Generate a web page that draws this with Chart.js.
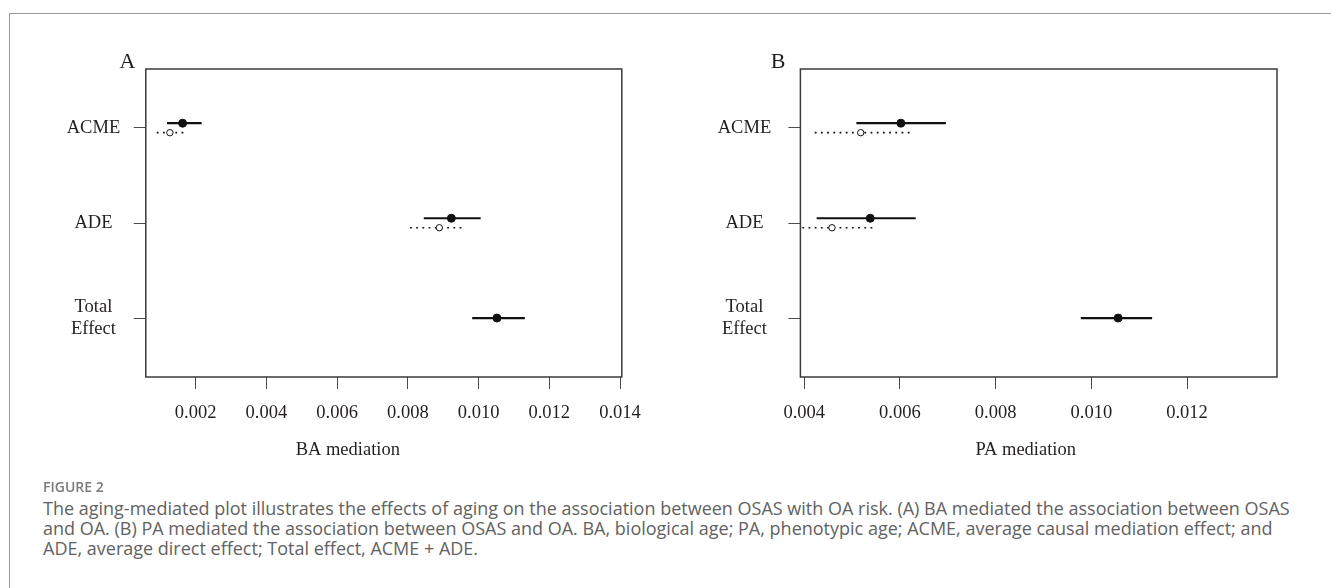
<!DOCTYPE html>
<html>
<head>
<meta charset="utf-8">
<script src="https://cdn.jsdelivr.net/npm/chart.js@4.4.1/dist/chart.umd.min.js"></script>
<style>
  html, body { margin: 0; padding: 0; background: #fff; }
  body { width: 1331px; height: 588px; position: relative; overflow: hidden; }
  #frame { position: absolute; left: 9px; top: 13px; width: 1400px; height: 700px;
           border-left: 1.5px solid #9a9a9a; border-top: 1.5px solid #9a9a9a; }
  .panel { position: absolute; top: 0; }
  #panelA { left: 0; }
  #panelB { left: 665px; }
  #fig-label { position: absolute; left: 43px; top: 477.6px; font-family: "Open Sans", sans-serif;
               font-size: 14px; font-weight: 600; line-height: 18px; color: #7a7a7a; }
  .cap-line { position: absolute; left: 43px; white-space: nowrap; font-family: "Open Sans", sans-serif;
              font-size: 15.7px; line-height: 20px; color: #626262; }
</style>
</head>
<body>
<div id="frame"></div>
<canvas id="panelA" class="panel" width="665" height="480"></canvas>
<canvas id="panelB" class="panel" width="666" height="480"></canvas>
<div id="fig-label">FIGURE 2</div>
<div class="cap-line" style="top:498px">The aging-mediated plot illustrates the effects of aging on the association between OSAS with OA risk. (A) BA mediated the association between OSAS</div>
<div class="cap-line" style="top:518px">and OA. (B) PA mediated the association between OSAS and OA. BA, biological age; PA, phenotypic age; ACME, average causal mediation effect; and</div>
<div class="cap-line" style="top:538px">ADE, average direct effect; Total effect, ACME + ADE.</div>

<script>
// --- Dados ---
const categories = ['ACME', 'ADE', ['Total', 'Effect']];

// BA mediation (solid = treated, dotted = control)
const baTreatedEst = [0.00163, 0.00923, 0.01052];
const baTreatedLow = [0.00119, 0.00845, 0.00982];
const baTreatedHigh = [0.00217, 0.01006, 0.01131];
const baControlEst = [0.00127, 0.00889];
const baControlLow = [0.00090, 0.00806];
const baControlHigh = [0.00166, 0.00957];
const baTicks = [0.002, 0.004, 0.006, 0.008, 0.010, 0.012, 0.014];

// PA mediation
const paTreatedEst = [0.00602, 0.00538, 0.01056];
const paTreatedLow = [0.00509, 0.00426, 0.00978];
const paTreatedHigh = [0.00696, 0.00633, 0.01127];
const paControlEst = [0.00518, 0.00458];
const paControlLow = [0.00422, 0.00396];
const paControlHigh = [0.00624, 0.00547];
const paTicks = [0.004, 0.006, 0.008, 0.010, 0.012];

// --- Estilo ---
const SERIF = '"Liberation Serif", "Times New Roman", serif';
const TEXT = '#231f20';
const INK = '#111111';
const OFFSET = 0.05; // deslocamento vertical treated/control

function catY(i) { return categories.length - i; }

function buildDatasets(tEst, tLow, tHigh, cEst, cLow, cHigh) {
    const ds = [];
    tEst.forEach((v, i) => {
        const y = catY(i) + (i < cEst.length ? OFFSET : 0);
        ds.push({ data: [{ x: tLow[i], y }, { x: tHigh[i], y }], showLine: true,
                  borderColor: INK, borderWidth: 2.2, pointRadius: 0, order: 2 });
    });
    cEst.forEach((v, i) => {
        const y = catY(i) - OFFSET;
        ds.push({ data: [{ x: cLow[i], y }, { x: cHigh[i], y }], showLine: true,
                  borderColor: INK, borderWidth: 1.7, borderDash: [1.8, 4.4], pointRadius: 0, order: 2 });
    });
    ds.push({ data: tEst.map((v, i) => ({ x: v, y: catY(i) + (i < cEst.length ? OFFSET : 0) })),
              pointRadius: 4, pointBackgroundColor: INK, pointBorderColor: INK, pointBorderWidth: 1, order: 0 });
    ds.push({ data: cEst.map((v, i) => ({ x: v, y: catY(i) - OFFSET })),
              pointRadius: 3.2, pointBackgroundColor: '#ffffff', pointBorderColor: INK, pointBorderWidth: 1, order: 0 });
    return ds;
}

// caixa do gráfico, letra do painel e título do eixo x
const panelText = {
    id: 'panelText',
    afterDraw(chart, args, opts) {
        const { ctx, chartArea: a } = chart;
        ctx.save();
        ctx.strokeStyle = '#3a3a3a';
        ctx.lineWidth = 1.5;
        ctx.strokeRect(a.left, a.top, a.right - a.left, a.bottom - a.top);
        ctx.fillStyle = TEXT;
        ctx.textAlign = 'center';
        ctx.textBaseline = 'alphabetic';
        ctx.font = '22px ' + SERIF;
        ctx.fillText(opts.letter, a.left + opts.letterDx, a.top - 1.5);
        ctx.font = '18.5px ' + SERIF;
        ctx.fillText(opts.xTitle, (a.left + a.right) / 2 + opts.titleDx, a.bottom + 78);
        ctx.restore();
    }
};

function makePanel(canvasId, cfg) {
    const canvas = document.getElementById(canvasId);
    return new Chart(canvas, {
        type: 'scatter',
        data: { datasets: buildDatasets(cfg.tEst, cfg.tLow, cfg.tHigh, cfg.cEst, cfg.cLow, cfg.cHigh) },
        plugins: [panelText],
        options: {
            responsive: false,
            animation: false,
            layout: { padding: { top: 69, right: cfg.rightPad, left: 0, bottom: 0 } },
            plugins: {
                legend: { display: false },
                tooltip: { enabled: false },
                panelText: { letter: cfg.letter, letterDx: cfg.letterDx, xTitle: cfg.xTitle, titleDx: cfg.titleDx }
            },
            scales: {
                x: {
                    type: 'linear',
                    min: cfg.xMin,
                    max: cfg.xMax,
                    afterBuildTicks: s => { s.ticks = cfg.ticks.map(v => ({ value: v })); },
                    afterFit: s => { s.height = 103; },
                    ticks: { callback: v => v.toFixed(3), font: { family: SERIF, size: 18.5 }, color: TEXT,
                             padding: 13, maxRotation: 0, autoSkip: false },
                    grid: { drawOnChartArea: false, drawTicks: true, tickLength: 12, color: '#4a4a4a', lineWidth: 1 },
                    border: { display: false }
                },
                y: {
                    type: 'linear',
                    min: 0.38,
                    max: 3.62,
                    afterBuildTicks: s => { s.ticks = categories.map((c, i) => ({ value: i + 1 })); },
                    afterFit: s => { s.width = cfg.yWidth; },
                    ticks: { callback: v => categories[categories.length - v], crossAlign: 'center',
                             padding: cfg.yPad, font: { family: SERIF, size: 18.5, lineHeight: 1.2 }, color: TEXT },
                    grid: { drawOnChartArea: false, drawTicks: true, tickLength: 12, color: '#4a4a4a', lineWidth: 1 },
                    border: { display: false }
                }
            }
        }
    });
}

makePanel('panelA', {
    tEst: baTreatedEst, tLow: baTreatedLow, tHigh: baTreatedHigh,
    cEst: baControlEst, cLow: baControlLow, cHigh: baControlHigh,
    ticks: baTicks, xMin: 0.00059, xMax: 0.01405,
    yWidth: 145.8, rightPad: 43.2, yPad: 13.6,
    letter: 'A', letterDx: -18.3, xTitle: 'BA mediation', titleDx: -36
});

makePanel('panelB', {
    tEst: paTreatedEst, tLow: paTreatedLow, tHigh: paTreatedHigh,
    cEst: paControlEst, cLow: paControlLow, cHigh: paControlHigh,
    ticks: paTicks, xMin: 0.00392, xMax: 0.01388,
    yWidth: 135.4, rightPad: 54, yPad: 17.2,
    letter: 'B', letterDx: -22.4, xTitle: 'PA mediation', titleDx: -13
});

// ajusta o tamanho da legenda para a largura da primeira linha
const capLines = document.querySelectorAll('.cap-line');
const mctx = document.createElement('canvas').getContext('2d');
mctx.font = '16px "Open Sans"';
const w1 = mctx.measureText(capLines[0].textContent).width;
const capSize = 16 * 1247 / w1;
capLines.forEach(el => { el.style.fontSize = capSize + 'px'; });
</script>
</body>
</html>
